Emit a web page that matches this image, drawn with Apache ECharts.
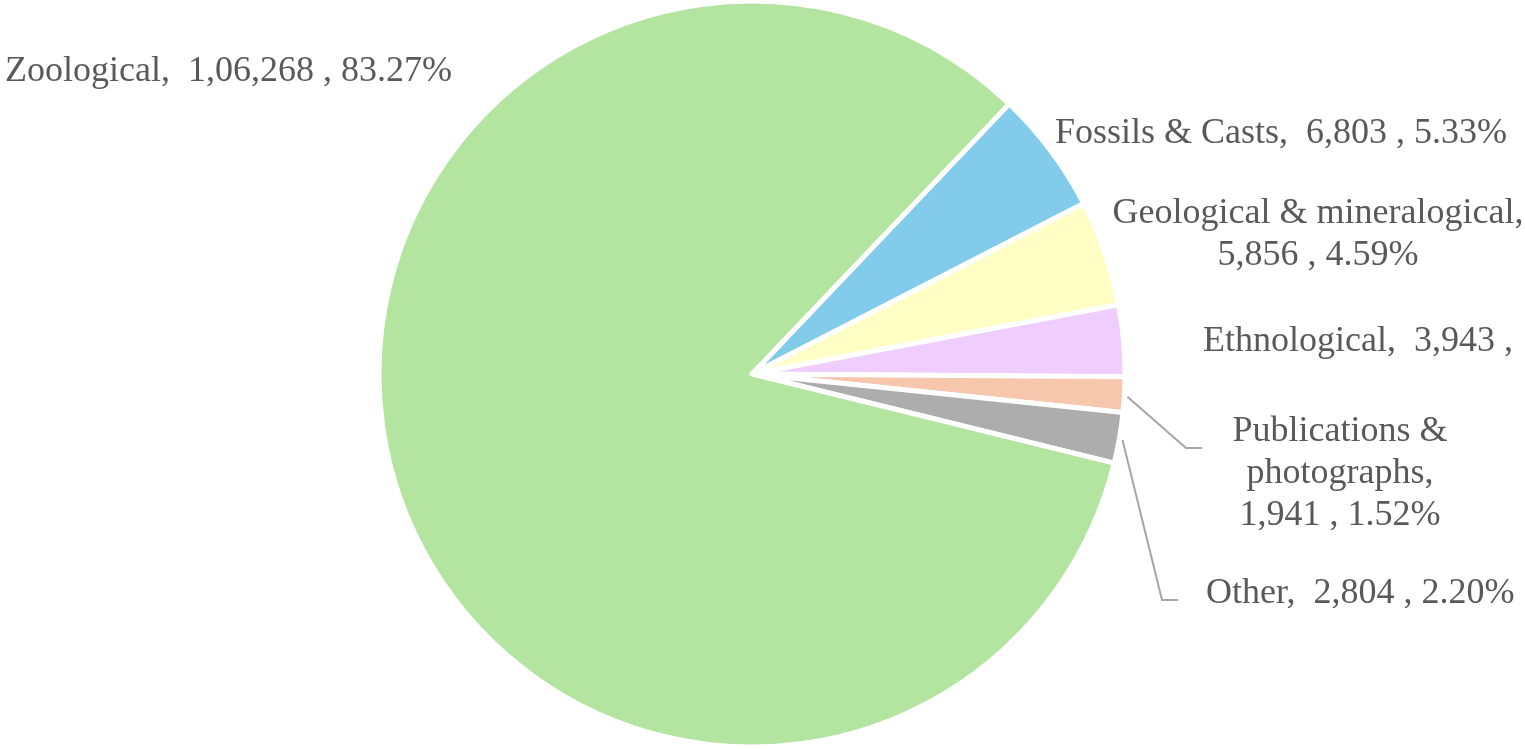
<!DOCTYPE html>
<html>
<head>
<meta charset="utf-8">
<script src="https://cdn.jsdelivr.net/npm/echarts@6/dist/echarts.min.js"></script>
<style>
  html, body { margin: 0; padding: 0; background: #fff; }
  #chart { width: 1525px; height: 749px; }
</style>
</head>
<body>
<div id="chart"></div>
<script>
// data, in drawing order (clockwise from the top of the Fossils slice)
const categories = ["Fossils & Casts", "Geological & mineralogical", "Ethnological", "Publications & photographs", "Other", "Zoological"];
const counts = [6803, 5856, 3943, 1941, 2804, 106268];
const colors = ["#82cbeb", "#ffffc5", "#efcdfc", "#f6c6ad", "#adadad", "#b3e5a1"];

// Indian digit grouping, e.g. 1,06,268
function fmtIN(n) {
  const s = String(n);
  if (s.length <= 3) return s;
  const last3 = s.slice(-3);
  let rest = s.slice(0, -3);
  const parts = [];
  while (rest.length > 2) {
    parts.unshift(rest.slice(-2));
    rest = rest.slice(0, -2);
  }
  if (rest) parts.unshift(rest);
  return parts.join(",") + "," + last3;
}

// label placement per slice (text positions only); lineEnd = where the leader line meets the text
const labelPos = [
  { x: 1055, y: 134, align: "left" },
  { x: 1318, y: 235, align: "center" },
  { x: 1203, y: 342, align: "left" },
  { x: 1340, y: 474, align: "center", lineEnd: [1202, 448] },
  { x: 1206, y: 594, align: "left", lineEnd: [1178, 600] },
  { x: 5, y: 72, align: "left" }
];
const withLine = [false, false, false, true, true, false];
const lineStyle = { color: "#a6a6a6", width: 2 };

const chart = echarts.init(document.getElementById("chart"));

const total = counts.reduce((a, b) => a + b, 0);
const pieData = categories.map((name, i) => ({
  name: name,
  value: counts[i],
  itemStyle: { color: colors[i] },
  labelLine: { show: withLine[i], lineStyle: lineStyle }
}));

const option = {
  animation: false,
  series: [
    {
      type: "pie",
      center: [752, 374],
      radius: 373,
      startAngle: 46.4,
      clockwise: true,
      avoidLabelOverlap: false,
      itemStyle: { borderColor: "#fff", borderWidth: 5 },
      label: {
        show: true,
        position: "outside",
        fontFamily: "Liberation Serif, Times New Roman, serif",
        fontSize: 36,
        lineHeight: 42,
        color: "#595959",
        formatter(p) {
          const pct = (p.value / total * 100).toFixed(2) + "%";
          const v = fmtIN(p.value);
          switch (p.dataIndex) {
            case 1: return "Geological & mineralogical,\n" + v + " , " + pct;
            case 2: return p.name + ",  " + v + " ,"; // percentage cut off in the original
            case 3: return "Publications &\nphotographs,\n" + v + " , " + pct;
            default: return p.name + ",  " + v + " , " + pct;
          }
        }
      },
      labelLine: {
        lineStyle: lineStyle
      },
      labelLayout(params) {
        const pos = labelPos[params.dataIndex];
        const out = { x: pos.x, y: pos.y, align: pos.align, verticalAlign: "middle" };
        if (pos.lineEnd && params.labelLinePoints) {
          const start = params.labelLinePoints[0];
          const end = pos.lineEnd;
          out.labelLinePoints = [
            [start[0] + 3, start[1] + 2],
            [end[0] - 16, end[1]],
            [end[0], end[1]]
          ];
        }
        return out;
      },
      data: pieData
    }
  ]
};

chart.setOption(option);
</script>
</body>
</html>
